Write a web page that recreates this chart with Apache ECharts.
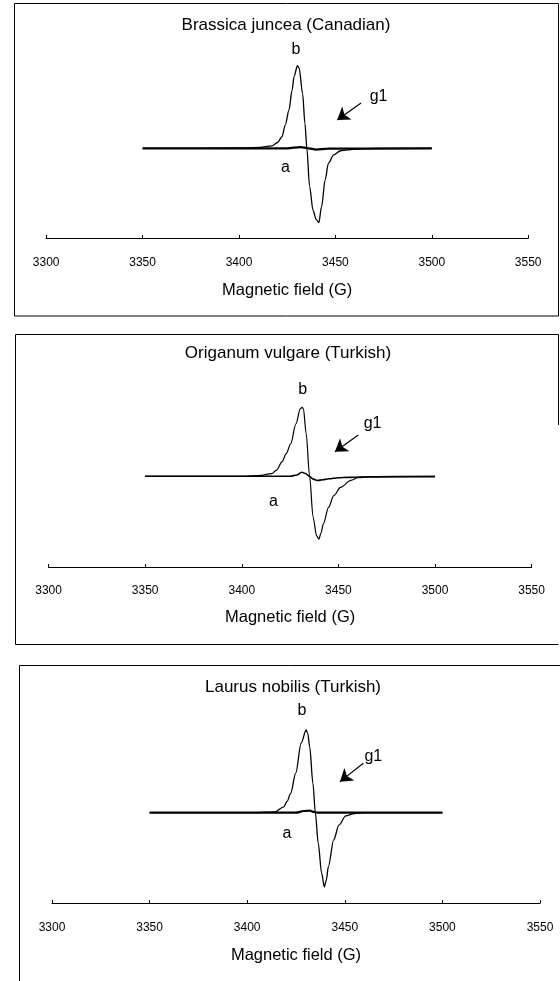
<!DOCTYPE html>
<html>
<head>
<meta charset="utf-8">
<script src="https://cdn.jsdelivr.net/npm/echarts@6/dist/echarts.min.js"></script>
<style>
html,body{margin:0;padding:0;background:#fff;}
#chart{width:560px;height:981px;}
</style>
</head>
<body>
<div id="chart"></div>
<script>
// ---------- data ----------
var panelTitles = ['Brassica juncea (Canadian)', 'Origanum vulgare (Turkish)', 'Laurus nobilis (Turkish)'];
var xAxisName = 'Magnetic field (G)';
var fieldMin = 3300, fieldMax = 3550, fieldStep = 50;

// Panel 1 – Brassica juncea
var field_b1 = [3350, 3380, 3405, 3410, 3414, 3417, 3420, 3422.3, 3424, 3425.9, 3427.5, 3428.6, 3430.3, 3431.2, 3433, 3434.2, 3435.2, 3436.6, 3438.4, 3440, 3441.4, 3442.8, 3444.7, 3446.4, 3449.1, 3452.7, 3456, 3460, 3470, 3500];
var signal_b1 = [0, 0, 0.5, 1, 2, 3, 7, 14, 28, 46, 70, 87, 100, 97, 66, 30, 0, -46, -75, -86, -90, -71, -38, -18, -8, -3, -2, -1, 0, 0];
var field_a1 = [3350, 3425, 3432, 3436, 3440, 3446, 3500];
var signal_a1 = [0, 0, 1.5, 0, -1.5, -0.5, 0];

// Panel 2 – Origanum vulgare
var field_b2 = [3350, 3400, 3410, 3415.5, 3418, 3420.8, 3423, 3425.3, 3428, 3430.3, 3431.2, 3431.9, 3433.3, 3435.1, 3436.9, 3438.7, 3439.9, 3441, 3442.2, 3444.9, 3447.6, 3451.1, 3456.5, 3460, 3467, 3500];
var signal_b2 = [0, 0, 1.5, 4, 9, 21, 33, 47, 76, 98, 100, 98, 62, 0, -59, -86, -91, -82, -69, -45, -28, -16, -6, -2, -0.5, 0];
var field_a2 = [3350, 3425, 3428.5, 3431, 3433, 3435, 3437, 3439, 3442, 3445, 3450, 3455, 3460, 3480, 3500];
var signal_a2 = [0, 0, 2, 6, 4, 0, -4, -6, -5, -3.5, -2, -1.5, -1, -0.5, -0.5];

// Panel 3 – Laurus nobilis
var field_b3 = [3350, 3405, 3410, 3414.3, 3418.7, 3420.5, 3422.2, 3424.9, 3427.6, 3430.2, 3431, 3432, 3433.7, 3434.9, 3436.4, 3438.1, 3439.5, 3440.5, 3441.6, 3444.3, 3447, 3450.5, 3455, 3460, 3500];
var signal_b3 = [0, 0, 0.5, 1, 7, 14, 23, 48, 84, 100, 96, 80, 35, 0, -37, -73, -90, -82, -65, -33, -15, -4, -1, 0, 0];
var field_a3 = [3350, 3425, 3429, 3432, 3434, 3436, 3500];
var signal_a3 = [0, 0, 2, 2.5, 1, 0, 0];

// ---------- layout / styles ----------
function zip(xs, ys) { return xs.map(function (x, i) { return [x, ys[i]]; }); }

var panels = [
  { b: zip(field_b1, signal_b1), a: zip(field_a1, signal_a1),
    grid: { left: 46.2, width: 482, top: 40.8, height: 197.2 }, ymin: -108.5, ymax: 130,
    labelMargin: 19, nameGap: 44, aWidth: 2.2, bWidth: 1.3,
    notes: { b: [3429.5, 119], a: [3424.1, -23.8], g1: [3472.4, 62] },
    arrow: [[3463.3, 54.8], [3450.9, 34.2]] },
  { b: zip(field_b2, signal_b2), a: zip(field_a2, signal_a2),
    grid: { left: 48.6, width: 483, top: 372.8, height: 194.2 }, ymin: -131.4, ymax: 150,
    labelMargin: 18, nameGap: 42, aWidth: 1.6, bWidth: 1.2,
    notes: { b: [3431.5, 126], a: [3416.4, -36.8], g1: [3467.7, 76.8] },
    arrow: [[3460.3, 59.9], [3448.2, 35.7]] },
  { b: zip(field_b3, signal_b3), a: zip(field_a3, signal_a3),
    grid: { left: 52, width: 488, top: 699.4, height: 203.6 }, ymin: -109.3, ymax: 137,
    labelMargin: 19, nameGap: 44, aWidth: 2.2, bWidth: 1.3,
    notes: { b: [3428.1, 123.4], a: [3420.4, -25.8], g1: [3464.6, 67.7] },
    arrow: [[3459.5, 59.8], [3447.5, 37.5]] }
];

var textFont = "'Liberation Sans', Arial, sans-serif";

var grids = [], xAxes = [], yAxes = [], series = [];
panels.forEach(function (p, i) {
  grids.push(p.grid);
  xAxes.push({
    type: 'value', gridIndex: i, min: fieldMin, max: fieldMax, interval: fieldStep,
    axisLine: { show: true, onZero: false, lineStyle: { color: '#000', width: 1.2 } },
    axisTick: { show: true, inside: true, length: 3, lineStyle: { color: '#000', width: 1 } },
    axisLabel: { show: true, margin: p.labelMargin, fontSize: 12, fontFamily: textFont, color: '#000',
      formatter: function (v) { return String(v); } },
    splitLine: { show: false },
    name: xAxisName, nameLocation: 'middle', nameGap: p.nameGap,
    nameTextStyle: { fontSize: 16.5, fontFamily: textFont, color: '#000' }
  });
  yAxes.push({ type: 'value', gridIndex: i, min: p.ymin, max: p.ymax, show: false, splitLine: { show: false } });
  series.push({
    name: 'a', type: 'line', xAxisIndex: i, yAxisIndex: i, data: p.a,
    showSymbol: false, smooth: 0.3, smoothMonotone: 'x',
    lineStyle: { color: '#000', width: p.aWidth }, z: 2
  });
  series.push({
    name: 'b', type: 'line', xAxisIndex: i, yAxisIndex: i, data: p.b,
    showSymbol: false, smooth: 0.3, smoothMonotone: 'x',
    lineStyle: { color: '#000', width: p.bWidth }, z: 3,
    markPoint: {
      silent: true, symbol: 'circle', symbolSize: 1,
      itemStyle: { color: 'rgba(0,0,0,0)' },
      label: { show: true, position: 'inside', formatter: '{b}', fontSize: 16, fontFamily: textFont, color: '#000' },
      data: [
        { name: 'b', coord: p.notes.b },
        { name: 'a', coord: p.notes.a },
        { name: 'g1', coord: p.notes.g1 }
      ]
    },
    markLine: {
      silent: true, symbol: ['none', 'arrow'], symbolSize: 12,
      lineStyle: { color: '#000', width: 1.2, type: 'solid' },
      label: { show: false },
      data: [[{ coord: p.arrow[0] }, { coord: p.arrow[1] }]]
    }
  });
});

var frameStyle = { stroke: '#000', lineWidth: 1, fill: null };
var titleStyle = function (t) {
  return { text: t, fontSize: 17, fontFamily: textFont, fill: '#000', textAlign: 'center', textVerticalAlign: 'middle' };
};
var graphics = [
  { type: 'rect', shape: { x: 14.5, y: 3.5, width: 544, height: 312.5 }, style: frameStyle, silent: true },
  { type: 'polyline', shape: { points: [[558.5, 425], [558.5, 334.5], [15.5, 334.5], [15.5, 644.5], [558.5, 644.5]] }, style: frameStyle, silent: true },
  { type: 'polyline', shape: { points: [[19.5, 981], [19.5, 665.5], [560, 665.5]] }, style: frameStyle, silent: true },
  { type: 'text', x: 286, y: 25, style: titleStyle(panelTitles[0]), silent: true },
  { type: 'text', x: 288, y: 353, style: titleStyle(panelTitles[1]), silent: true },
  { type: 'text', x: 293, y: 687, style: titleStyle(panelTitles[2]), silent: true }
];

var chart = echarts.init(document.getElementById('chart'), null, { renderer: 'canvas' });
chart.setOption({
  backgroundColor: '#fff',
  animation: false,
  grid: grids,
  xAxis: xAxes,
  yAxis: yAxes,
  series: series,
  graphic: graphics
});
</script>
</body>
</html>
